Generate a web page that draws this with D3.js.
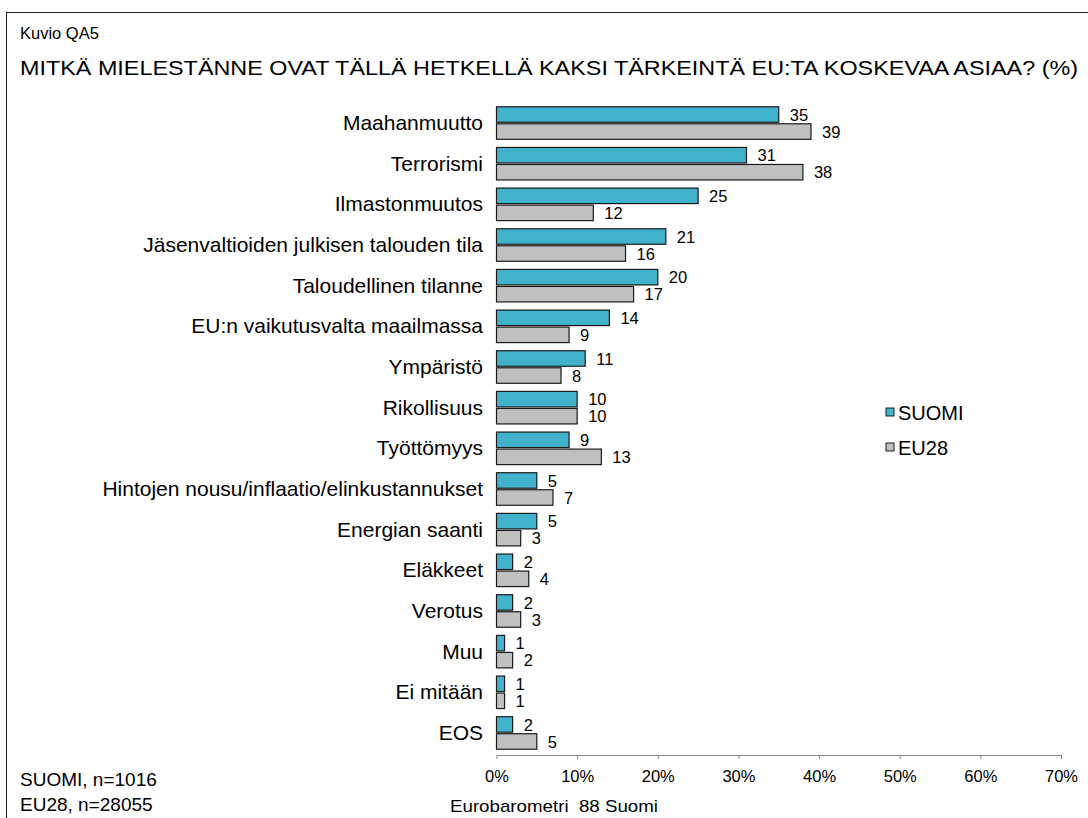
<!DOCTYPE html>
<html>
<head>
<meta charset="utf-8">
<script src="https://cdn.jsdelivr.net/npm/d3@7"></script>
<style>
  body { margin: 0; background: #fff; }
  svg { display: block; font-family: "Liberation Sans", Arial, sans-serif; }
</style>
</head>
<body>
<svg width="1088" height="818"></svg>
<script>
// data
var categories = ["Maahanmuutto", "Terrorismi", "Ilmastonmuutos",
    "Jäsenvaltioiden julkisen talouden tila", "Taloudellinen tilanne",
    "EU:n vaikutusvalta maailmassa", "Ympäristö", "Rikollisuus", "Työttömyys",
    "Hintojen nousu/inflaatio/elinkustannukset", "Energian saanti", "Eläkkeet",
    "Verotus", "Muu", "Ei mitään", "EOS"];
var suomi = [35, 31, 25, 21, 20, 14, 11, 10, 9, 5, 5, 2, 2, 1, 1, 2];
var eu28 = [39, 38, 12, 16, 17, 9, 8, 10, 13, 7, 3, 4, 3, 2, 1, 5];
var seriesNames = ["SUOMI", "EU28"];
var xTicks = [0, 10, 20, 30, 40, 50, 60, 70];

var colors = ["#40b2cc", "#c0c0c0"];

var svg = d3.select("svg");

// outer frame
svg.append("rect")
    .attr("x", 6.5).attr("y", 12.5)
    .attr("width", 1100).attr("height", 830)
    .attr("fill", "none").attr("stroke", "#222").attr("stroke-width", 1);

svg.append("text")
    .attr("x", 20).attr("y", 39)
    .attr("font-size", 16.5)
    .text("Kuvio QA5");

svg.append("text")
    .attr("x", 20).attr("y", 75)
    .attr("font-size", 20)
    .attr("textLength", 1058)
    .attr("lengthAdjust", "spacingAndGlyphs")
    .text("MITKÄ MIELESTÄNNE OVAT TÄLLÄ HETKELLÄ KAKSI TÄRKEINTÄ EU:TA KOSKEVAA ASIAA? (%)");

var x = d3.scaleLinear().domain([0, 70]).range([496.5, 1061]);

var y = d3.scaleBand()
    .domain(categories)
    .range([102.7, 753.3])
    .paddingInner(0.2)
    .paddingOuter(0.1);

var inner = d3.scaleBand()
    .domain([0, 1])
    .range([0, y.bandwidth()])
    .paddingInner(0.09);

var rows = categories.map(function (c, i) {
    return { name: c, values: [suomi[i], eu28[i]] };
});

var g = svg.append("g");

var group = g.selectAll(".cat")
    .data(rows)
    .enter().append("g")
    .attr("class", "cat")
    .attr("transform", function (d) { return "translate(0," + y(d.name) + ")"; });

group.append("text")
    .attr("x", 483)
    .attr("y", y.bandwidth() / 2)
    .attr("dy", "0.33em")
    .attr("text-anchor", "end")
    .attr("font-size", 21)
    .text(function (d) { return d.name; });

group.selectAll("rect")
    .data(function (d) { return d.values; })
    .enter().append("rect")
    .attr("x", x(0))
    .attr("y", function (d, i) { return inner(i); })
    .attr("width", function (d) { return x(d) - x(0); })
    .attr("height", inner.bandwidth())
    .attr("fill", function (d, i) { return colors[i]; })
    .attr("stroke", "#1a1a1a")
    .attr("stroke-width", 1.2);

group.selectAll(".val")
    .data(function (d) { return d.values; })
    .enter().append("text")
    .attr("class", "val")
    .attr("x", function (d) { return x(d) + 11; })
    .attr("y", function (d, i) { return inner(i) + inner.bandwidth() / 2; })
    .attr("dy", "0.38em")
    .attr("font-size", 16.5)
    .text(function (d) { return d; });

// x axis
var axis = svg.append("g")
    .attr("transform", "translate(0,755)")
    .call(d3.axisBottom(x).tickValues(xTicks).tickSize(0).tickPadding(0)
        .tickFormat(function (d) { return d + "%"; }));
axis.select(".domain").attr("stroke", "#888");
axis.selectAll(".tick line")
    .attr("y1", 0).attr("y2", 4)
    .attr("stroke", "#888");
axis.selectAll(".tick text")
    .attr("y", 27).attr("dy", 0)
    .attr("fill", "#000")
    .attr("font-size", 16.5)
    .attr("font-family", "Liberation Sans, Arial, sans-serif");

// legend
var legend = svg.append("g")
    .selectAll("g")
    .data(seriesNames)
    .enter().append("g")
    .attr("transform", function (d, i) { return "translate(886," + (408 + i * 35) + ")"; });

legend.append("rect")
    .attr("width", 8).attr("height", 8)
    .attr("fill", function (d, i) { return colors[i]; })
    .attr("stroke", "#1a1a1a").attr("stroke-width", 1);

legend.append("text")
    .attr("x", 12).attr("y", 12)
    .attr("font-size", 20)
    .text(function (d) { return d; });

// footers
svg.append("text").attr("x", 20).attr("y", 786).attr("font-size", 19).text("SUOMI, n=1016");
svg.append("text").attr("x", 20).attr("y", 811).attr("font-size", 19).text("EU28, n=28055");
svg.append("text").attr("x", 450).attr("y", 812).attr("font-size", 17)
    .style("white-space", "pre")
    .attr("textLength", 208).attr("lengthAdjust", "spacingAndGlyphs")
    .text("Eurobarometri  88 Suomi");
</script>
</body>
</html>
